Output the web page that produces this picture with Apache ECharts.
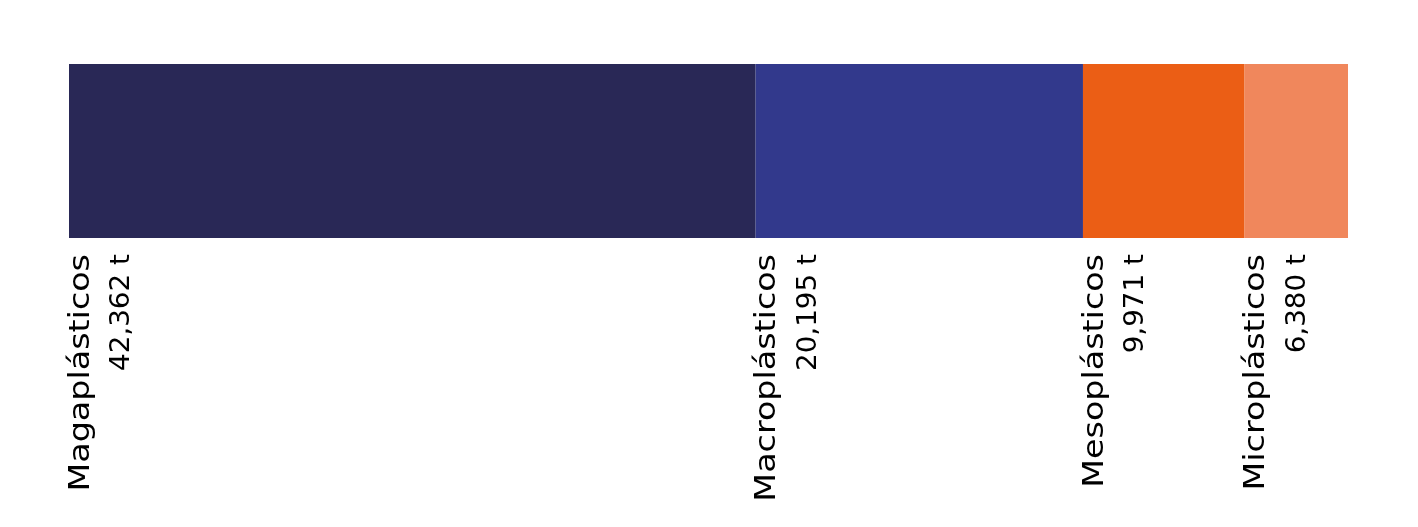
<!DOCTYPE html>
<html>
<head>
<meta charset="utf-8">
<script src="https://cdn.jsdelivr.net/npm/echarts@6/dist/echarts.min.js"></script>
<style>
html,body{margin:0;padding:0;background:#fff;}
#chart{width:1418px;height:527px;}
</style>
</head>
<body>
<div id="chart"></div>
<script>
var categories = ['Magaplásticos', 'Macroplásticos', 'Mesoplásticos', 'Microplásticos'];
var values = [42362, 20195, 9971, 6380];
var valueLabels = ['42,362 t', '20,195 t', '9,971 t', '6,380 t'];
var colors = ['#292856', '#32398C', '#EB5E15', '#F0875C'];

var total = values.reduce(function (a, b) { return a + b; }, 0);
var data = [];
var acc = 0;
for (var i = 0; i < values.length; i++) {
  data.push([acc, acc + values[i], i]);
  acc += values[i];
}

var NAME_FONT = 29, NAME_SCALE = 1.15, NAME_DX = 12;
var VALUE_FONT = 27, VALUE_SCALE = 1.03, VALUE_DX = 53;
var LABEL_GAP = 16;

var chart = echarts.init(document.getElementById('chart'), null, {renderer: 'canvas'});
chart.setOption({
  animation: false,
  grid: {left: 69, right: 70, top: 64, height: 174},
  xAxis: {type: 'value', min: 0, max: total, show: false},
  yAxis: {type: 'category', data: ['total'], show: false},
  series: [{
    type: 'custom',
    data: data,
    encode: {x: [0, 1]},
    renderItem: function (params, api) {
      var s = api.coord([api.value(0), 0]);
      var e = api.coord([api.value(1), 0]);
      var h = api.size([0, 1])[1];
      var idx = api.value(2);
      var top = s[1] - h / 2;
      var ly = top + h + LABEL_GAP;
      return {
        type: 'group',
        children: [{
          type: 'rect',
          shape: {x: s[0], y: top, width: e[0] - s[0], height: h},
          style: {fill: colors[idx]}
        }, {
          type: 'text',
          x: s[0] + NAME_DX,
          y: ly,
          rotation: Math.PI / 2,
          scaleX: NAME_SCALE,
          style: {
            text: categories[idx],
            font: NAME_FONT + 'px "DejaVu Sans"',
            fill: '#000',
            align: 'right',
            verticalAlign: 'middle'
          }
        }, {
          type: 'text',
          x: s[0] + VALUE_DX,
          y: ly,
          rotation: Math.PI / 2,
          scaleX: VALUE_SCALE,
          style: {
            text: valueLabels[idx],
            font: VALUE_FONT + 'px "DejaVu Sans"',
            fill: '#000',
            align: 'right',
            verticalAlign: 'middle'
          }
        }]
      };
    }
  }]
});
</script>
</body>
</html>
